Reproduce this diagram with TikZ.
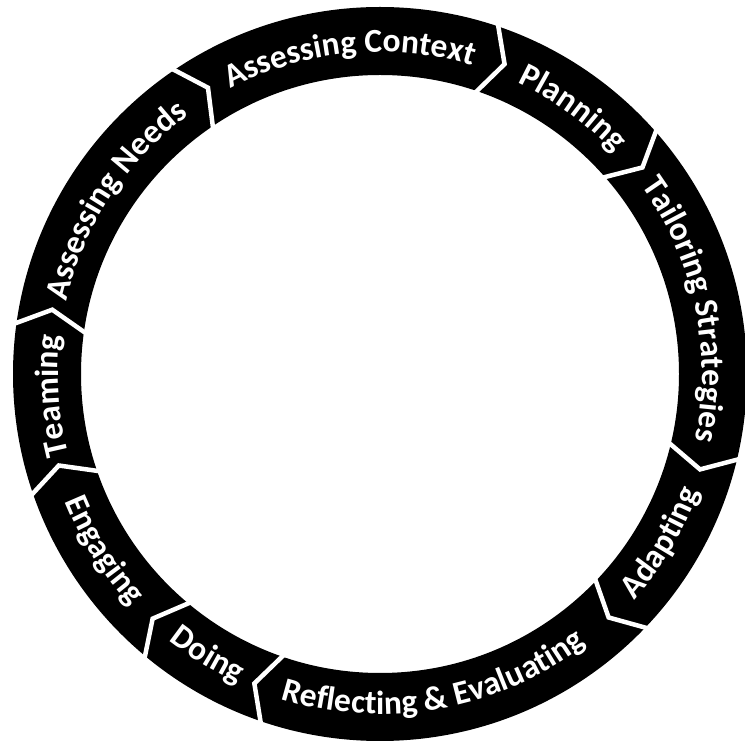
\documentclass[tikz,border=0pt]{standalone}
\usepackage{fontspec}
\setmainfont{Carlito}
\usetikzlibrary{decorations.text}
\newcommand\segfont{\fontsize{33.5}{40}\selectfont\bfseries}
\tikzset{
  ringfill/.style={fill=black,even odd rule},
  gapline/.style={draw=white,line width=4.5pt,line join=miter},
  labeltext/.style={decorate,decoration={text along path,text align=center,text color=white,text={|\segfont|#1}}}
}
% top-half label: clockwise, letter tops outward
\newcommand\toplabel[2]{\path[labeltext={#2}] ([shift={(#1+38:322)}]O) arc[start angle=#1+38,end angle=#1-38,radius=322];}
% bottom-half label: counter-clockwise, letter tops inward
\newcommand\botlabel[2]{\path[labeltext={#2}] ([shift={(#1-38:340)}]O) arc[start angle=#1-38,end angle=#1+38,radius=340];}
\begin{document}
\begin{tikzpicture}[x=1pt,y=1pt]
\useasboundingbox (0,0) rectangle (745,745);
\clip (0,0) rectangle (745,745);
\coordinate (O) at (380,371);
% black ring
\path[ringfill] (O) circle[radius=367] (O) circle[radius=299];
% white chevron gaps between segments (arrows point clockwise)
\foreach \t in {124.5,71.6,41.7,-13.1,-43.3,-108.6,-129.4,-160.6,172.4}{
  \path[gapline] ([shift={(\t:294)}]O) -- ([shift={(\t-3.5:334)}]O) -- ([shift={(\t:372)}]O);
}
% labels
\toplabel{95.5}{Assessing Context}
\toplabel{54}{Planning}
\toplabel{12}{Tailoring Strategies}
\botlabel{-31}{Adapting}
\botlabel{-79.8}{Reflecting {\&} Evaluating}
\botlabel{-121.5}{Doing}
\botlabel{-147.5}{Engaging}
\toplabel{-176.2}{Teaming}
\toplabel{146.7}{Assessing Needs}
\end{tikzpicture}
\end{document}
